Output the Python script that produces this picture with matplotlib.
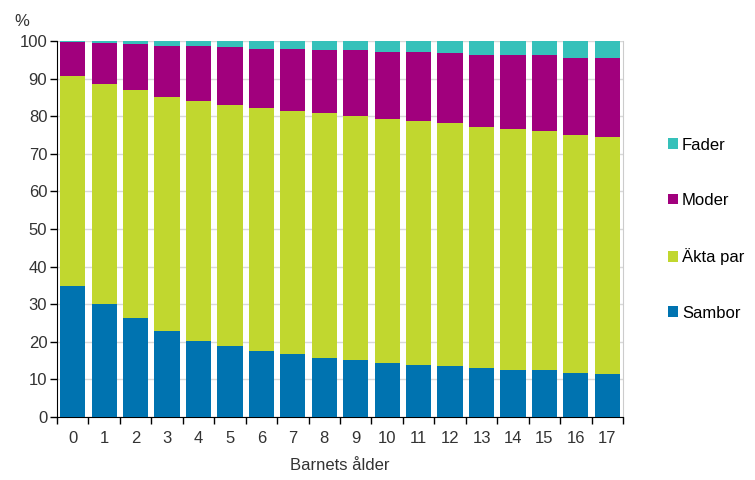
import matplotlib.pyplot as plt
import numpy as np

ages = [str(a) for a in range(18)]

# cumulative tops (percent)
sambor = [34.8, 30.0, 26.2, 22.9, 20.2, 19.0, 17.6, 16.8, 15.6, 15.1,
          14.3, 13.8, 13.5, 12.9, 12.6, 12.6, 11.7, 11.4]
akta_top = [90.7, 88.6, 86.9, 85.2, 84.0, 82.9, 82.1, 81.3, 80.8, 80.0,
            79.2, 78.7, 78.3, 77.0, 76.6, 76.1, 74.9, 74.5]
moder_top = [99.7, 99.5, 99.3, 98.8, 98.8, 98.4, 98.0, 98.0, 97.5, 97.5,
             97.2, 97.2, 96.7, 96.3, 96.3, 96.3, 95.5, 95.5]

akta = [t - s for t, s in zip(akta_top, sambor)]
moder = [m - t for m, t in zip(moder_top, akta_top)]
fader = [100 - m for m in moder_top]

series = [
    ("Sambor", sambor, "#0073b0"),
    ("Äkta par", akta, "#c1d72f"),
    ("Moder", moder, "#a1007d"),
    ("Fader", fader, "#36c1ba"),
]

plt.rcParams["font.family"] = ["Liberation Sans", "DejaVu Sans"]

fig = plt.figure(figsize=(7.55, 4.8), dpi=100)
ax = fig.add_axes([57 / 755, 63 / 480, 566 / 755, 376 / 480])

x = np.arange(len(ages))
bottom = np.zeros(len(ages))
handles = {}
for name, vals, color in series:
    bars = ax.bar(x, vals, width=0.8, bottom=bottom, color=color, label=name, zorder=3)
    handles[name] = bars
    bottom += np.array(vals)

ax.set_xlim(-0.5, len(ages) - 0.5)
ax.set_ylim(0, 100)
ax.set_yticks(range(0, 101, 10))
ax.yaxis.grid(True, color="#d9d9d9", linewidth=1, zorder=0)
ax.set_axisbelow(True)

ax.set_xticks(x)
ax.set_xticklabels(ages)
ax.set_xticks(np.arange(-0.5, len(ages), 1), minor=True)
ax.tick_params(axis="x", which="major", length=0, labelsize=12, pad=10, colors="#333333")
ax.tick_params(axis="x", which="minor", length=5, width=1, color="black")
ax.tick_params(axis="y", length=5, width=1, labelsize=12, colors="#333333", pad=2)
ax.tick_params(axis="y", color="black")

ax.spines["top"].set_visible(False)
ax.spines["right"].set_color("#cccccc")
ax.spines["left"].set_color("black")
ax.spines["bottom"].set_color("black")

ax.set_xlabel("Barnets ålder", fontsize=12, color="#333333", labelpad=9)
fig.text(14 / 755, 1 - 22 / 480, "%", fontsize=12, color="#333333", va="center")

order = ["Fader", "Moder", "Äkta par", "Sambor"]
fig.legend([handles[n] for n in order], order, loc="upper left",
           bbox_to_anchor=(661 / 755, 1 - 131 / 480), frameon=False,
           fontsize=12, handlelength=0.6, handleheight=0.6, handletextpad=0.25,
           labelspacing=2.42, borderaxespad=0)

fig.savefig("out.png", dpi=100)
